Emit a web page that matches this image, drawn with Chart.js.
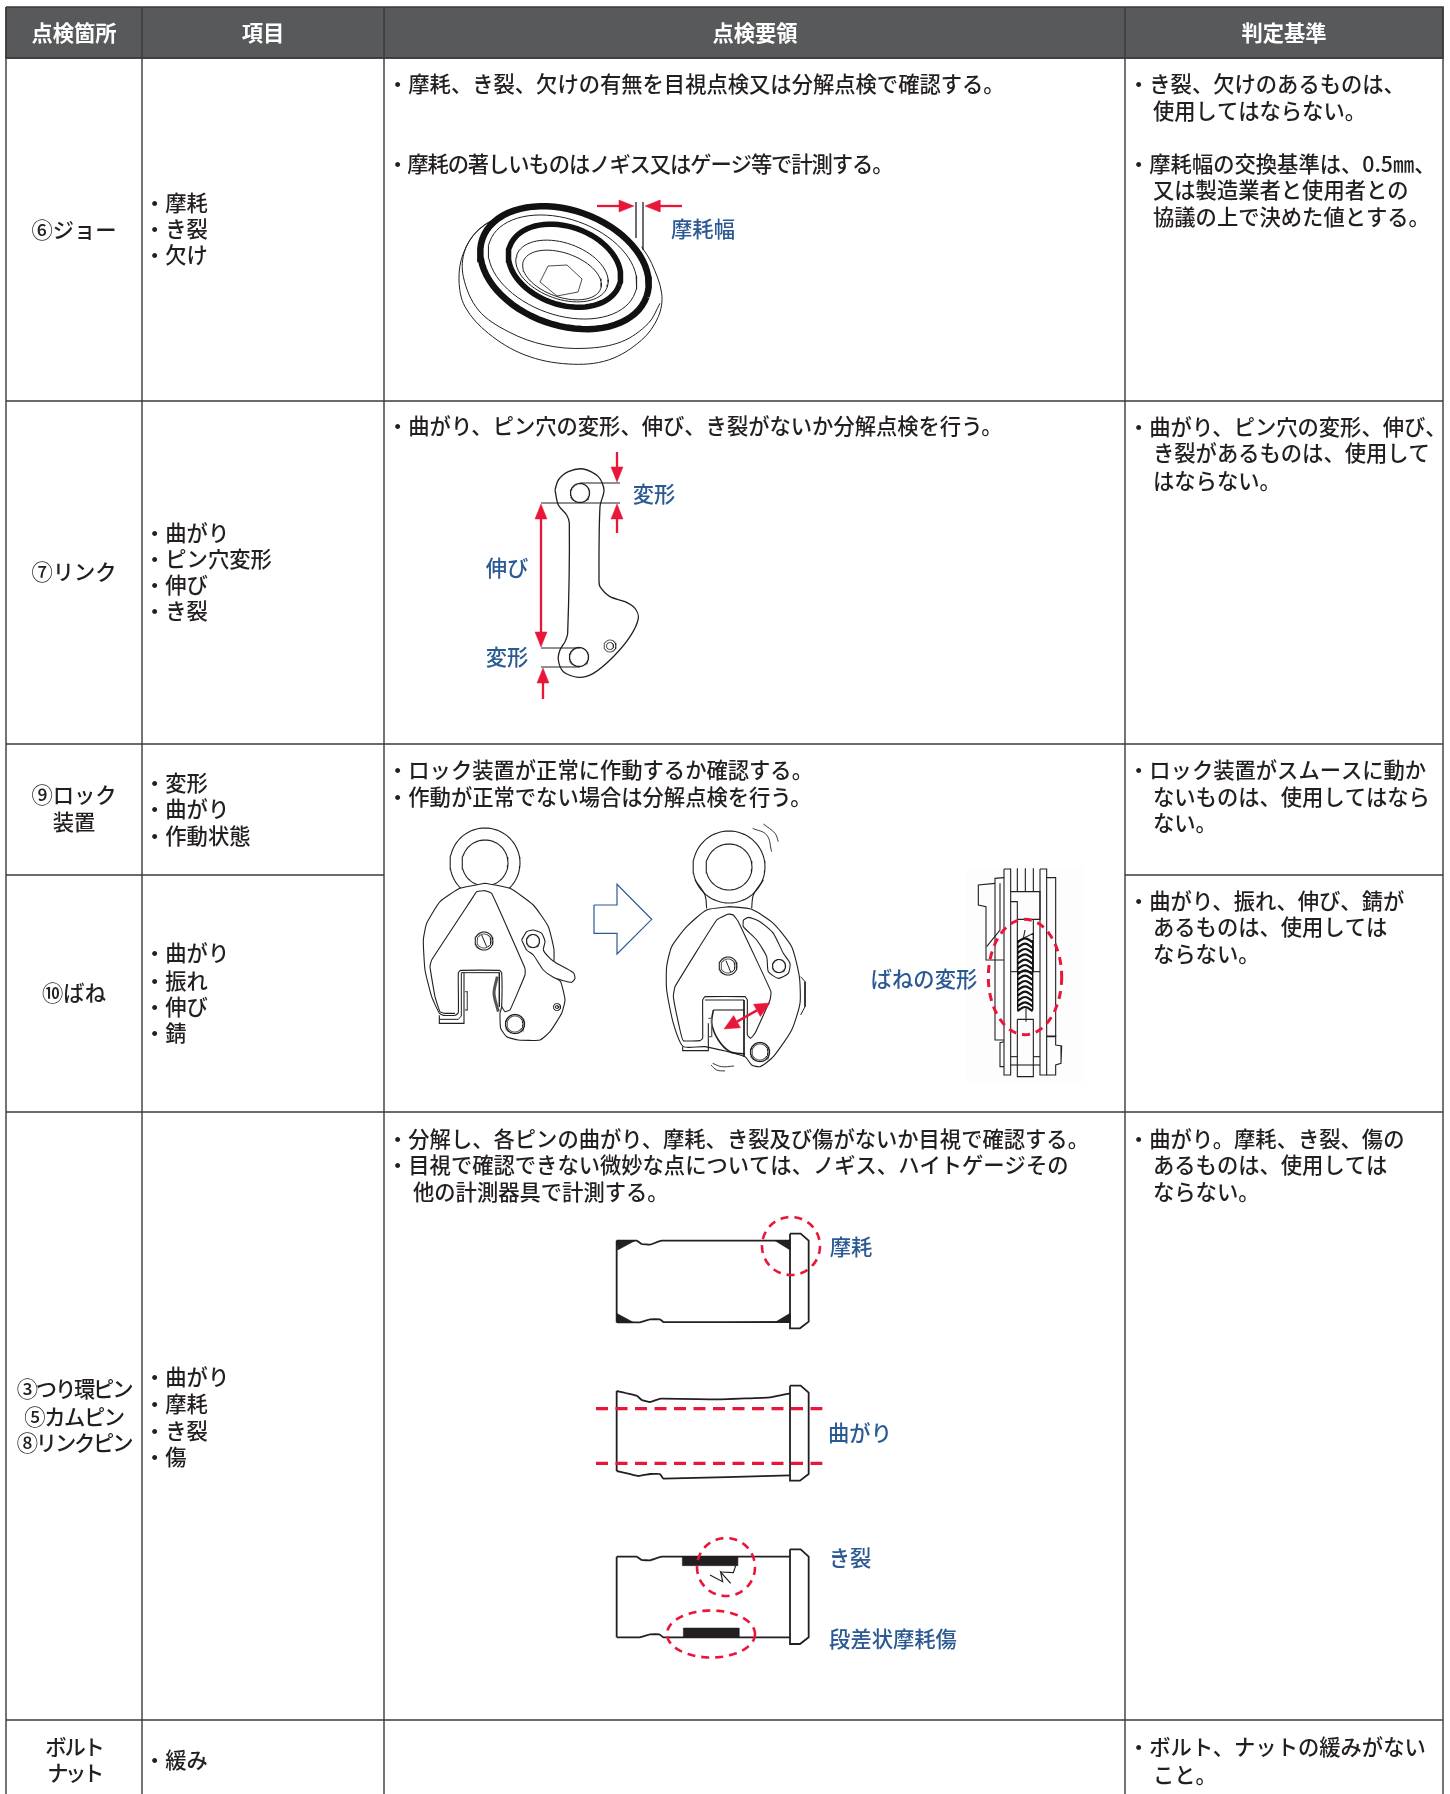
<!DOCTYPE html>
<html>
<head>
<meta charset="utf-8">
<script src="https://cdn.jsdelivr.net/npm/chart.js@4"></script>
<style>
  html, body { margin: 0; background: #fff; }
  canvas { display: block; }
</style>
</head>
<body>
<canvas id="tabelaInspecao" width="1450" height="1794"></canvas>
<script>
// table structure
const columnEdges = [6, 142, 384, 1125, 1443];
const rowEdges = [7, 58, 401, 744, 875, 1112, 1720, 1794];
const headerLabels = ["点検箇所", "項目", "点検要領", "判定基準"];
const headerCenters = [74, 263, 755, 1284];

const pointLabels = ["⑥ジョー", "⑦リンク", "⑨ロック", "装置", "⑩ばね", "③つり環ピン", "⑤カムピン", "⑧リンクピン", "ボルト", "ナット"];
const pointY = [229, 571, 794, 821, 992, 1388, 1416, 1442, 1746, 1772];
const pointSpacing = [0, 0, 0, 0, 0, -2.2, -1.4, -2.2, -2.2, -3.4];

const itemLabels = ["・摩耗", "・き裂", "・欠け", "・曲がり", "・ピン穴変形", "・伸び", "・き裂", "・変形", "・曲がり", "・作動状態", "・曲がり", "・振れ", "・伸び", "・錆", "・曲がり", "・摩耗", "・き裂", "・傷", "・緩み"];
const itemY = [202, 228, 254, 532, 558, 584, 610, 782, 808, 835, 952, 980, 1006, 1032, 1376, 1403, 1430, 1456, 1759];

const procedureLabels = [
  "・摩耗、き裂、欠けの有無を目視点検又は分解点検で確認する。",
  "・摩耗の著しいものはノギス又はゲージ等で計測する。",
  "・曲がり、ピン穴の変形、伸び、き裂がないか分解点検を行う。",
  "・ロック装置が正常に作動するか確認する。",
  "・作動が正常でない場合は分解点検を行う。",
  "・分解し、各ピンの曲がり、摩耗、き裂及び傷がないか目視で確認する。",
  "・目視で確認できない微妙な点については、ノギス、ハイトゲージその",
  "他の計測器具で計測する。"
];
const procedureY = [83, 163, 425, 769, 796, 1138, 1164, 1191];
const procedureX = [387, 387, 387, 387, 387, 387, 387, 413];
const procedureSpacing = [0, -1.08, 0, 0, 0, 0, 0, 0];

const criteriaLabels = [
  "・き裂、欠けのあるものは、", "使用してはならない。",
  "・摩耗幅の交換基準は、0.5㎜、", "又は製造業者と使用者との", "協議の上で決めた値とする。",
  "・曲がり、ピン穴の変形、伸び、", "き裂があるものは、使用して", "はならない。",
  "・ロック装置がスムースに動か", "ないものは、使用してはなら", "ない。",
  "・曲がり、振れ、伸び、錆が", "あるものは、使用しては", "ならない。",
  "・曲がり。摩耗、き裂、傷の", "あるものは、使用しては", "ならない。",
  "・ボルト、ナットの緩みがない", "こと。"
];
const criteriaY = [83, 110, 163, 189, 216, 426, 452, 480, 769, 796, 822, 900, 926, 953, 1138, 1164, 1191, 1746, 1774];
const criteriaX = [1128, 1153, 1128, 1153, 1153, 1128, 1153, 1153, 1128, 1153, 1153, 1128, 1153, 1153, 1128, 1153, 1153, 1128, 1153];

const noteLabels = ["摩耗幅", "変形", "伸び", "変形", "ばねの変形", "摩耗", "曲がり", "き裂", "段差状摩耗傷"];
const noteX = [703, 654, 507, 507, 924, 851, 860, 850, 893];
const noteY = [228, 493, 567, 656, 978, 1246, 1432, 1557, 1638];

const INK = "#231f20";
const RED = "#e8173a";
const BLUE = "#2b5a93";
const datasets = [];

function addShape(points, opts) {
  const o = opts || {};
  datasets.push({
    data: points.map(p => ({ x: p[0], y: p[1] })),
    showLine: true,
    pointRadius: 0,
    borderColor: o.color || INK,
    borderWidth: o.width === undefined ? 1.2 : o.width,
    borderDash: o.dash || [],
    tension: o.smooth || 0,
    fill: o.fill ? "shape" : false,
    backgroundColor: o.fill || "transparent",
    order: -datasets.length
  });
}

function at(ox, oy, pts) {
  return pts.map(p => [ox + p[0] / 3, oy + p[1] / 3]);
}

function ellipse(cx, cy, rx, ry, deg) {
  const pts = [];
  const r = (deg || 0) * Math.PI / 180;
  for (let i = 0; i <= 72; i++) {
    const t = i / 72 * Math.PI * 2;
    const ex = rx * Math.cos(t), ey = ry * Math.sin(t);
    pts.push([cx + ex * Math.cos(r) - ey * Math.sin(r), cy + ex * Math.sin(r) + ey * Math.cos(r)]);
  }
  return pts;
}

function arrowHead(x1, y1, x2, y2, len, half) {
  const d = Math.hypot(x2 - x1, y2 - y1);
  const ux = (x2 - x1) / d, uy = (y2 - y1) / d;
  const bx = x2 - ux * len, by = y2 - uy * len;
  addShape([[x2, y2], [bx - uy * half, by + ux * half], [bx + uy * half, by - ux * half], [x2, y2]], { color: RED, width: 0.5, fill: RED });
  return [bx, by];
}

function arrow(x1, y1, x2, y2) {
  const b = arrowHead(x1, y1, x2, y2, 15, 6);
  addShape([[x1, y1], b], { color: RED, width: 2.3 });
}

function doubleArrow(x1, y1, x2, y2, len, half, w) {
  const a = arrowHead(x2, y2, x1, y1, len, half);
  const b = arrowHead(x1, y1, x2, y2, len, half);
  addShape([a, b], { color: RED, width: w });
}

// --- table ---
const gridColor = "#3a3a3c";
addShape([[columnEdges[0], rowEdges[0]], [columnEdges[4], rowEdges[0]], [columnEdges[4], rowEdges[1]], [columnEdges[0], rowEdges[1]], [columnEdges[0], rowEdges[0]]], { color: "#3a3a3c", width: 1.5, fill: "#58595b" });
columnEdges.forEach(x => addShape([[x, rowEdges[0]], [x, rowEdges[7]]], { color: gridColor, width: 1.4 }));
[1, 2, 3, 5, 6].forEach(i => addShape([[columnEdges[0], rowEdges[i]], [columnEdges[4], rowEdges[i]]], { color: gridColor, width: 1.4 }));
addShape([[columnEdges[0], rowEdges[4]], [columnEdges[2], rowEdges[4]]], { color: gridColor, width: 1.4 });
addShape([[columnEdges[3], rowEdges[4]], [columnEdges[4], rowEdges[4]]], { color: gridColor, width: 1.4 });

// --- jaw ---
const jawOuter = [[185, 68], [100, 120], [55, 190], [42, 270], [60, 350], [130, 430], [240, 495], [370, 522], [490, 510], [590, 450], [640, 380], [650, 310], [620, 220], [590, 170]];
const jawRim = [[185, 68], [105, 115], [60, 180], [55, 260], [100, 360], [190, 425], [300, 465], [420, 475], [530, 455], [610, 400], [645, 340]];
addShape(at(445, 190, jawOuter), { width: 1, smooth: 0.35 });
addShape(at(445, 190, jawRim), { width: 1, smooth: 0.35 });
addShape(ellipse(564.5, 267.7, 87, 57.5, 19.5), { width: 6.5, color: "#111" });
addShape(ellipse(562.5, 267, 77, 48, 19.5), { width: 1 });
addShape(ellipse(564.5, 265.7, 58, 39, 19.5), { width: 5.5, color: "#111" });
addShape(ellipse(562, 271, 48, 28, 19.5), { width: 1 });
addShape(ellipse(562, 275, 41, 22, 19.5), { width: 1 });
addShape([[548, 266], [567, 265], [582, 279], [578, 292], [557, 296], [540, 282], [548, 266]], { width: 0.8 });
addShape([[636, 202], [636, 238]], { width: 1.3 });
addShape([[643, 202], [643, 250]], { width: 1.3 });
arrow(597, 206, 634, 206);
arrow(682, 206, 645, 206);

// --- link ---
const linkOutline = [[525, 270], [535, 315], [560, 345], [568, 370], [563, 700], [555, 725], [540, 750], [535, 780], [550, 815], [595, 832], [640, 820], [700, 770], [750, 710], [775, 655], [765, 625], [735, 605], [690, 590], [660, 560], [657, 540], [660, 320], [672, 270], [655, 230], [610, 207], [565, 215], [535, 240], [525, 270]];
addShape(at(380, 400, linkOutline), { width: 1.3, smooth: 0.3 });
addShape(ellipse(580, 493, 9.5, 9.5), { width: 1.3 });
addShape(ellipse(579, 657, 9.5, 9.5), { width: 1.3 });
addShape(ellipse(610, 646, 6, 6), { width: 0.8 });
addShape(ellipse(610, 646, 3.5, 3.5), { width: 0.8 });
addShape([[580, 483], [620, 483]], { width: 1.2 });
addShape([[541, 503], [620, 503]], { width: 1.2 });
addShape([[541, 648], [580, 648]], { width: 1.2 });
addShape([[541, 667], [580, 667]], { width: 1.2 });
arrow(617, 452, 617, 482);
arrow(617, 533, 617, 504);
doubleArrow(541, 504, 541, 647, 15, 6, 2.3);
arrow(543, 699, 543, 668);

// --- clamp, open ---
addShape(ellipse(485, 863, 35, 35), { width: 1.1 });
addShape(ellipse(485, 863, 23, 23), { width: 1.1 });
const clampBody = [[285, 280], [210, 295], [150, 335], [110, 400], [100, 450], [105, 540], [125, 620], [148, 670], [160, 676], [195, 676], [205, 668], [205, 548], [212, 541], [328, 541], [335, 548], [335, 650], [330, 670], [332, 715], [350, 740], [385, 750], [450, 750], [480, 725], [515, 670], [525, 630], [512, 575], [492, 560], [492, 480], [475, 410], [430, 345], [360, 295], [285, 280]];
addShape(at(390, 790, clampBody), { width: 1.1, fill: "#fff", smooth: 0.15 });
const clampCam = [[285, 302], [260, 305], [250, 320], [125, 510], [120, 530], [135, 620], [150, 665], [165, 670], [195, 670]];
addShape(at(390, 790, clampCam), { width: 1.1, smooth: 0.12 });
addShape(at(390, 790, [[285, 302], [305, 310], [405, 535], [405, 555], [360, 660], [345, 665], [335, 650]]), { width: 1.1, smooth: 0.1 });
addShape(at(390, 790, [[148, 676], [148, 700], [222, 700], [222, 548]]), { width: 1.1 });
addShape(at(390, 790, [[148, 688], [205, 688], [214, 678], [214, 548], [328, 548], [328, 650]]), { width: 1 });
addShape(at(390, 790, [[322, 560], [312, 610], [325, 665]]), { width: 3, color: "#555", smooth: 0.3 });
addShape(at(390, 790, [[225, 605], [232, 605], [232, 660], [225, 660]]), { width: 1.4, color: "#666" });
addShape(ellipse(484, 941, 9, 9), { width: 1.1 });
addShape(ellipse(484, 941, 7, 7), { width: 0.8 });
addShape(at(390, 790, [[275, 435], [290, 470]]), { width: 1 });
addShape(ellipse(515, 1024, 9.5, 9.5), { width: 1.3 });
addShape(ellipse(515, 1024, 8, 8), { width: 0.8 });
addShape(ellipse(557, 1007, 3.5, 3.5), { width: 1 });
addShape(ellipse(557, 1007, 1.5, 1.5), { width: 1 });
const clampLever = [[395, 450], [410, 425], [430, 420], [455, 430], [465, 455], [460, 480], [480, 505], [500, 520], [550, 548], [555, 565], [545, 577], [520, 572], [490, 562], [460, 540], [430, 495], [410, 480], [395, 450]];
addShape(at(390, 790, clampLever), { width: 1.1, fill: "#fff", smooth: 0.2 });
addShape(ellipse(533, 941, 6.5, 6.5), { width: 1.2 });

// --- block arrow ---
addShape(at(390, 790, [[612, 345], [681, 345], [681, 283], [785, 388], [681, 492], [681, 430], [612, 430], [612, 345]]), { color: BLUE, width: 1.2 });

// --- clamp, closed ---
addShape(ellipse(729, 867, 36, 36), { width: 1.1 });
addShape(ellipse(729, 867, 23, 23), { width: 1.1 });
addShape(at(390, 790, [[915, 270], [945, 315], [950, 355]]), { width: 1.1, smooth: 0.3 });
addShape(at(390, 790, [[1120, 270], [1090, 315], [1085, 355]]), { width: 1.1, smooth: 0.3 });
const closedBody = [[1020, 350], [950, 360], [890, 410], [845, 470], [830, 530], [830, 600], [850, 700], [880, 770], [945, 770], [1065, 800], [1085, 825], [1110, 830], [1150, 800], [1205, 720], [1230, 640], [1228, 560], [1205, 470], [1150, 400], [1085, 358], [1020, 350]];
addShape(at(390, 790, closedBody), { width: 1.1, fill: "#fff", smooth: 0.2 });
const closedCam = [[1015, 372], [980, 390], [855, 590], [850, 620], [870, 720], [880, 752], [930, 752], [938, 745], [938, 630], [945, 620], [1065, 620], [1072, 630], [1072, 735], [1082, 745], [1095, 730], [1140, 630], [1143, 605], [1045, 395], [1030, 375], [1015, 372]];
addShape(at(390, 790, closedCam), { width: 1.1, smooth: 0.1 });
addShape(at(390, 790, [[945, 630], [1062, 630], [1062, 800]]), { width: 1 });
const closedSlot = [[1060, 390], [1075, 382], [1110, 395], [1150, 430], [1180, 490], [1200, 520], [1195, 550], [1165, 565], [1135, 545], [1130, 500], [1100, 450], [1060, 410], [1060, 390]];
addShape(at(390, 790, closedSlot), { width: 1.1, smooth: 0.2 });
addShape(ellipse(728, 966, 9, 9), { width: 1.1 });
addShape(ellipse(728, 966, 7, 7), { width: 0.8 });
addShape(at(390, 790, [[1008, 512], [1022, 546]]), { width: 1 });
addShape(ellipse(760, 1052, 9.5, 9.5), { width: 1.3 });
addShape(ellipse(760, 1052, 8, 8), { width: 0.8 });
addShape(ellipse(779, 966, 6.5, 6.5), { width: 1.2 });
addShape(at(390, 790, [[970, 660], [1062, 660]]), { width: 1.1 });
addShape(at(390, 790, [[970, 660], [965, 700], [985, 750], [1020, 785], [1065, 792]]), { width: 1.6, smooth: 0.3 });
addShape(at(390, 790, [[878, 770], [878, 782], [955, 782], [955, 700]]), { width: 1.1 });
addShape(at(390, 790, [[955, 685], [965, 685], [965, 740], [955, 740]]), { width: 1.4, color: "#666" });
addShape(at(390, 790, [[1232, 560], [1245, 575], [1245, 650], [1232, 675]]), { width: 1 });
addShape(at(390, 790, [[1088, 115], [1130, 135], [1145, 185]]), { width: 0.9, smooth: 0.4 });
addShape(at(390, 790, [[1120, 102], [1155, 130], [1165, 155]]), { width: 0.9, smooth: 0.4 });
addShape(at(390, 790, [[968, 820], [995, 830], [1032, 828]]), { width: 0.9, smooth: 0.4 });
addShape(at(390, 790, [[963, 825], [980, 840], [1005, 843]]), { width: 0.9, smooth: 0.4 });
doubleArrow(724, 1029, 770, 1003, 15, 7, 2.4);

// --- spring, side view ---
addShape(at(800, 790, [[500, 235], [850, 235], [850, 880], [500, 880], [500, 235]]), { color: "#fdfdfd", width: 0, fill: "#fdfdfd" });
const plateLines = [
  [[612, 237], [632, 237], [632, 855], [612, 855], [612, 237]],
  [[720, 237], [740, 237], [740, 855], [720, 855], [720, 237]],
  [[652, 235], [652, 305]], [[676, 235], [676, 305]], [[700, 235], [700, 305]],
  [[612, 263], [585, 265], [585, 750], [612, 750]],
  [[740, 263], [767, 263], [767, 740], [740, 740]],
  [[585, 280], [535, 285], [535, 345], [558, 350], [558, 510], [612, 510]],
  [[600, 280], [600, 420], [560, 470]],
  [[632, 305], [720, 305], [720, 388], [652, 388]],
  [[632, 335], [652, 335], [652, 545]], [[700, 388], [700, 545]],
  [[632, 545], [720, 545]],
  [[652, 688], [652, 860], [700, 860], [700, 688], [652, 688]],
  [[632, 800], [652, 800]], [[700, 800], [720, 800]], [[632, 825], [720, 825]],
  [[612, 755], [600, 758], [600, 830], [612, 830]],
  [[740, 738], [767, 738], [767, 765], [785, 768], [783, 820], [767, 825], [767, 855], [740, 855]]
];
plateLines.forEach(l => addShape(at(800, 790, l), { width: 1.1 }));
const springCoilY = [452, 468, 484, 500, 516, 532, 548, 564, 580, 596, 612, 628, 644, 658];
springCoilY.forEach(y => addShape(at(800, 790, [[652, y + 5], [675, y - 7], [698, y + 5]]), { width: 2.2, color: "#111", smooth: 0.4 }));
addShape(at(800, 790, [[653, 450], [653, 660]]), { width: 1, color: "#111" });
addShape(at(800, 790, [[698, 450], [698, 660]]), { width: 1, color: "#111" });
addShape(at(800, 790, [[675, 420], [670, 445], [700, 430], [700, 448]]), { width: 1.1 });
addShape(at(800, 790, [[678, 655], [678, 695]]), { width: 1.1 });
addShape(ellipse(1025, 977, 36.7, 57.7), { color: RED, width: 3, dash: [8, 6] });

// --- pins ---
function pin(ox, oy, top, bottom, head) {
  addShape(at(ox, oy, top), { width: 1.8, smooth: 0.08 });
  addShape(at(ox, oy, bottom), { width: 1.8, smooth: 0.08 });
  addShape(at(ox, oy, [top[0], bottom[0]]), { width: 1.8 });
  addShape(at(ox, oy, head), { width: 1.8 });
}
const solid = { width: 0.5, fill: INK };
pin(570, 1200,
  [[140, 122], [200, 122], [215, 132], [240, 134], [275, 122], [660, 122]],
  [[140, 367], [210, 367], [240, 358], [270, 358], [280, 366], [660, 366]],
  [[660, 101], [692, 101], [716, 122], [716, 365], [690, 385], [660, 385], [660, 101]]);
[[[140, 122], [195, 122], [143, 150], [140, 122]], [[615, 122], [660, 122], [660, 150], [615, 122]], [[140, 340], [190, 367], [140, 367], [140, 340]], [[660, 340], [660, 367], [615, 367], [660, 340]]]
  .forEach(t => addShape(at(570, 1200, t), solid));
addShape(ellipse(791, 1246, 29, 29), { color: RED, width: 2.6, dash: [8, 6] });

pin(570, 1200,
  [[140, 573], [200, 587], [215, 600], [240, 606], [272, 596], [450, 598], [600, 592], [660, 580]],
  [[140, 813], [205, 828], [240, 822], [270, 822], [280, 836], [660, 826]],
  [[660, 557], [692, 557], [716, 578], [716, 822], [690, 842], [660, 842], [660, 557]]);
addShape(at(570, 1200, [[78, 626], [757, 626]]), { color: RED, width: 3.3, dash: [12, 7.5] });
addShape(at(570, 1200, [[78, 790], [757, 790]]), { color: RED, width: 3.3, dash: [12, 7.5] });

pin(570, 1500,
  [[140, 170], [200, 170], [215, 180], [240, 181], [275, 170], [660, 170]],
  [[140, 412], [210, 412], [240, 403], [268, 403], [280, 412], [660, 412]],
  [[660, 148], [692, 148], [716, 170], [716, 412], [690, 432], [660, 432], [660, 148]]);
addShape(at(570, 1500, [[337, 170], [503, 170], [503, 197], [337, 197], [337, 170]]), solid);
addShape(at(570, 1500, [[340, 384], [507, 384], [507, 412], [340, 412], [340, 384]]), solid);
addShape(at(570, 1500, [[420, 225], [458, 245], [452, 216], [482, 250]]), { width: 1.2 });
addShape(at(570, 1500, [[497, 197], [490, 218], [452, 216]]), { width: 1.2 });
addShape(ellipse(726, 1567, 29, 29), { color: RED, width: 2.6, dash: [8, 6] });
addShape(ellipse(711, 1634, 44, 23.5), { color: RED, width: 2.6, dash: [8, 6] });

// all the lettering goes through the same scales as the lines
const tableText = {
  id: "tableText",
  afterDatasetsDraw(chart) {
    const ctx = chart.ctx;
    const sx = chart.scales.x, sy = chart.scales.y;
    const put = (txt, x, y, align, color, weight, spacing) => {
      ctx.font = weight + ' 21.3px "Noto Sans CJK JP"';
      ctx.letterSpacing = (spacing || 0) + "px";
      ctx.textAlign = align;
      ctx.textBaseline = "middle";
      ctx.fillStyle = color;
      ctx.fillText(txt, sx.getPixelForValue(x), sy.getPixelForValue(y + 0.7));
    };
    ctx.save();
    headerLabels.forEach((t, i) => put(t, headerCenters[i], 32.5, "center", "#fff", "bold"));
    pointLabels.forEach((t, i) => put(t, 74, pointY[i], "center", INK, "500", pointSpacing[i]));
    itemLabels.forEach((t, i) => put(t, 144, itemY[i], "left", INK, "500"));
    procedureLabels.forEach((t, i) => put(t, procedureX[i], procedureY[i], "left", INK, "500", procedureSpacing[i]));
    criteriaLabels.forEach((t, i) => put(t, criteriaX[i], criteriaY[i], "left", INK, "500"));
    noteLabels.forEach((t, i) => put(t, noteX[i], noteY[i], "center", BLUE, "500"));
    ctx.restore();
  }
};

new Chart(document.getElementById("tabelaInspecao"), {
  type: "scatter",
  data: { datasets: datasets },
  options: {
    responsive: false,
    animation: false,
    layout: { padding: 0 },
    scales: {
      x: { type: "linear", min: 0, max: 1450, display: false },
      y: { type: "linear", min: 0, max: 1794, reverse: true, display: false }
    },
    plugins: { legend: { display: false }, tooltip: { enabled: false } }
  },
  plugins: [tableText]
});
</script>
</body>
</html>
